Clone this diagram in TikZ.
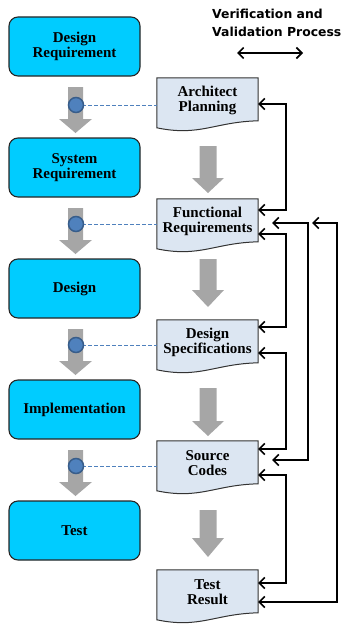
\documentclass[tikz,border=0pt]{standalone}
\usepackage{fontspec}
\setmainfont{Liberation Serif}
\newfontfamily\legendfont{DejaVu Sans}
\usetikzlibrary{arrows.meta,calc,backgrounds}

\definecolor{boxcyan}{HTML}{00CCFF}
\definecolor{docblue}{HTML}{DCE6F2}
\definecolor{arrgray}{HTML}{A6A6A6}
\definecolor{dotblue}{HTML}{4F81BD}
\definecolor{dotedge}{HTML}{385D8A}

\newcommand\docpath[1]{%
  \path[docshape] (#1.north west) -- (#1.north east) -- ($(#1.north east)+(0,43)$)
    .. controls ($(#1.north west)+(58,44)$) and ($(#1.north west)+(43,59)$) .. ($(#1.north west)+(0,50)$) -- cycle;}
% #1 centre x, #2 shaft top, #3 head start, #4 tip, #5 half shaft, #6 half head
\newcommand\garrow[6]{%
  \fill[grayarr] ({#1-#5},#2) -- ({#1+#5},#2) -- ({#1+#5},#3) -- ({#1+#6},#3) -- (#1,#4)
    -- ({#1-#6},#3) -- ({#1-#5},#3) -- cycle;}

\begin{document}
\begin{tikzpicture}[x=1pt,y=-1pt,
  stagebox/.style={draw=black!85,line width=1.1pt,fill=boxcyan,rounded corners=9pt,
    minimum width=131pt,minimum height=59pt,inner sep=0pt,align=center,
    font=\fontsize{15}{15}\selectfont\bfseries},
  docnode/.style={minimum width=101pt,minimum height=44pt,inner sep=0pt,align=center,
    font=\fontsize{15}{15}\selectfont\bfseries},
  docshape/.style={draw=black!80,line width=1pt,fill=docblue},
  grayarr/.style={fill=arrgray},
  linkdot/.style={circle,fill=dotblue,draw=dotedge,line width=1.5pt,minimum size=15pt,inner sep=0pt},
  tiedash/.style={dotblue,line width=1pt,dash pattern=on 4pt off 2pt},
  vv/.style={line width=1.6pt,{Straight Barb[length=5.5pt,width=11pt]}-{Straight Barb[length=5.5pt,width=11pt]}},
]
\useasboundingbox (0,0) rectangle (344,626);

% legend
\node[anchor=north west,align=left,inner sep=0pt,font=\legendfont\fontsize{12.4}{18}\selectfont\bfseries]
  (legend) at (212,8.5) {Verification and\\Validation Process};
\coordinate (la) at (237,53);
\coordinate (lb) at (303,53);
\draw[vv] (la) -- (lb);

% left stages
\node[stagebox] (s1) at (74.5,46.5) {Design\\Requirement};
\node[stagebox] (s2) at (74.5,167.5) {System\\Requirement};
\node[stagebox] (s3) at (74.5,288.5) {Design};
\node[stagebox] (s4) at (74.5,409.5) {Implementation};
\node[stagebox] (s5) at (74.5,530.5) {Test};

% right documents
\node[docnode] (d1) at (207.5,100) {Architect\\Planning};
\node[docnode] (d2) at (207.5,221) {Functional\\Requirements};
\node[docnode] (d3) at (207.5,342) {Design\\Specifications};
\node[docnode] (d4) at (207.5,463) {Source\\Codes};
\node[docnode] (d5) at (207.5,592) {Test\\Result};
\begin{scope}[on background layer]
  \docpath{d1}\docpath{d2}\docpath{d3}\docpath{d4}\docpath{d5}
\end{scope}

% gray arrows, left column
\garrow{75.5}{87}{119}{133}{7.5}{16.5}
\garrow{75.5}{208}{240}{254}{7.5}{16.5}
\garrow{75.5}{329}{361}{375}{7.5}{16.5}
\garrow{75.5}{450}{482}{496}{7.5}{16.5}
% gray arrows, right column
\garrow{208}{146}{178}{193}{8.5}{16}
\garrow{208}{259}{290}{307}{8.5}{16}
\garrow{208}{388}{421}{436}{8.5}{16}
\garrow{208}{510}{538}{557}{8.5}{16}

% dashed ties and link dots
\coordinate (c1) at (76,105);
\coordinate (c2) at (76,224);
\coordinate (c3) at (76,345);
\coordinate (c4) at (76,466);
\draw[tiedash] (c1) -- (d1.west |- c1);
\draw[tiedash] (c2) -- (d2.west |- c2);
\draw[tiedash] (c3) -- (d3.west |- c3);
\draw[tiedash] (c4) -- (d4.west |- c4);
\node[linkdot] (k1) at (c1) {};
\node[linkdot] (k2) at (c2) {};
\node[linkdot] (k3) at (c3) {};
\node[linkdot] (k4) at (c4) {};

% verification connectors
\draw[vv] ($(d1.east)+(0,4)$) -- ++(28,0) |- ($(d2.east)+(0,-11)$);
\draw[vv] ($(d2.east)+(0,13)$) -- ++(28,0) |- ($(d3.east)+(0,-15)$);
\draw[vv] ($(d3.east)+(0,11)$) -- ++(28,0) |- ($(d4.east)+(0,-14)$);
\draw[vv] ($(d4.east)+(0,12)$) -- ++(28,0) |- ($(d5.east)+(0,-9)$);
\coordinate (e1) at ($(d2.east)+(14,2)$);
\coordinate (e2) at ($(d4.east)+(14,-3)$);
\draw[vv] (e1) -- ++(36,0) |- (e2);
\coordinate (f1) at ($(d2.east)+(54,2)$);
\draw[vv] (f1) -- ++(25,0) |- ($(d5.east)+(0,10)$);
\end{tikzpicture}
\end{document}
